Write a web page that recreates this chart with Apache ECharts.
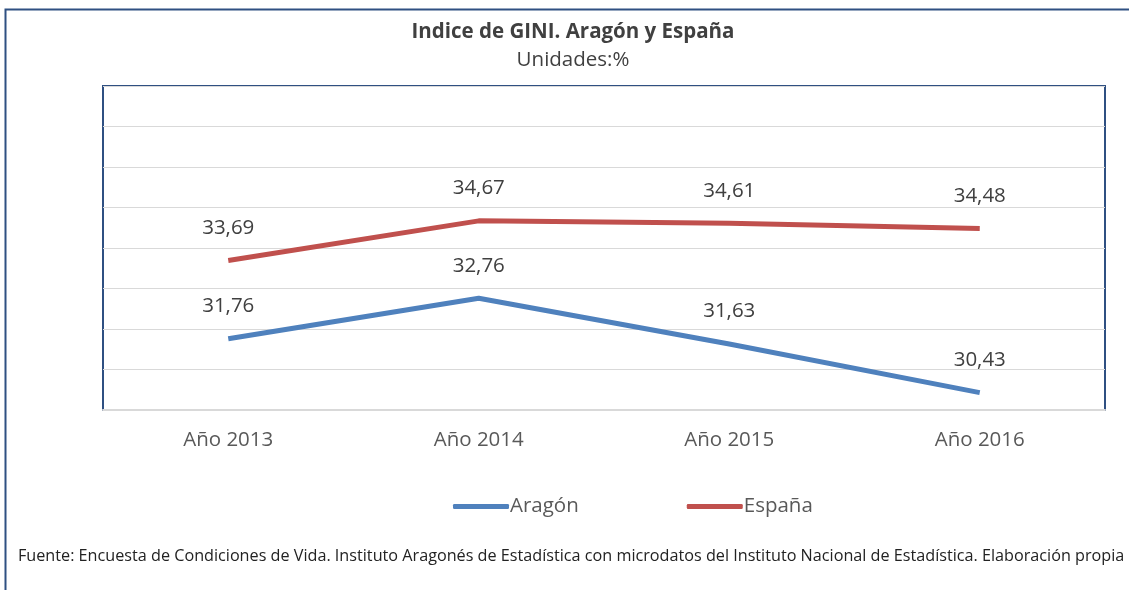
<!DOCTYPE html>
<html><head><meta charset="utf-8">
<script src="https://cdn.jsdelivr.net/npm/echarts@6/dist/echarts.min.js"></script>
<style>html,body{margin:0;padding:0;background:#fff}#c{width:1129px;height:590px}</style>
</head><body><div id="c"></div>
<script>
const categories = ['Año 2013', 'Año 2014', 'Año 2015', 'Año 2016'];
const aragon = [31.76, 32.76, 31.63, 30.43];
const espana = [33.69, 34.67, 34.61, 34.48];
const seriesNames = ['Aragón', 'España'];
const yMin = 30, yMax = 38, yStep = 1;

const chart = echarts.init(document.getElementById('c'));
const fmt = p => Number(p.value).toFixed(2).replace('.', ',');
const font = '"Open Sans", "Noto Sans", sans-serif';
chart.setOption({
  animation: false,
  backgroundColor: '#fff',
  title: [
    {text: 'Indice de GINI. Aragón y España', left: 568, top: 17, textAlign: 'center',
     textStyle: {fontFamily: font, fontSize: 20.5, fontWeight: 'bold', color: '#404040'}},
    {text: 'Unidades:%', left: 568, top: 45, textAlign: 'center',
     textStyle: {fontFamily: font, fontSize: 20.5, fontWeight: 'normal', color: '#404040'}},
    {text: 'Fuente: Encuesta de Condiciones de Vida. Instituto Aragonés de Estadística con microdatos del Instituto Nacional de Estadística. Elaboración propia',
     left: 13, top: 543,
     textStyle: {fontFamily: font, fontSize: 16.2, fontWeight: 'normal', color: '#222'}}
  ],
  graphic: [
    {type: 'rect', shape: {x: 5.5, y: 9.5, width: 1140, height: 600}, style: {fill: 'none', stroke: '#2f5082', lineWidth: 2}, z: 100}
  ],
  grid: {left: 103, right: 24, top: 86, bottom: 180, show: true, borderColor: '#2f5082', borderWidth: 2, backgroundColor: 'transparent'},
  legend: {
    data: seriesNames, left: 453, top: 496, padding: 0, itemWidth: 56, itemHeight: 5, itemGap: 108,
    icon: 'roundRect',
    textStyle: {fontFamily: font, fontSize: 20.5, color: '#595959', padding: [0, 0, 0, -4]}
  },
  xAxis: {
    type: 'category', data: categories, boundaryGap: true,
    axisLine: {show: true, lineStyle: {color: '#d9d9d9', width: 2}},
    axisTick: {show: false},
    axisLabel: {fontFamily: font, fontSize: 20.5, color: '#595959', margin: 20},
    z: 10
  },
  yAxis: {
    type: 'value', min: yMin, max: yMax, interval: yStep,
    axisLabel: {show: false}, axisLine: {show: false}, axisTick: {show: false},
    splitLine: {lineStyle: {color: '#d9d9d9', width: 1}}
  },
  series: [
    {name: seriesNames[0], type: 'line', data: aragon, symbol: 'circle', symbolSize: 0, showSymbol: true,
     lineStyle: {color: '#4f81bd', width: 5}, itemStyle: {color: '#4f81bd'},
     label: {show: true, position: 'top', distance: 22, formatter: fmt, fontFamily: font, fontSize: 20.5, color: '#404040'}},
    {name: seriesNames[1], type: 'line', data: espana, symbol: 'circle', symbolSize: 0, showSymbol: true,
     lineStyle: {color: '#c0504d', width: 5}, itemStyle: {color: '#c0504d'},
     label: {show: true, position: 'top', distance: 22, formatter: fmt, fontFamily: font, fontSize: 20.5, color: '#404040'}}
  ]
});
</script></body></html>
